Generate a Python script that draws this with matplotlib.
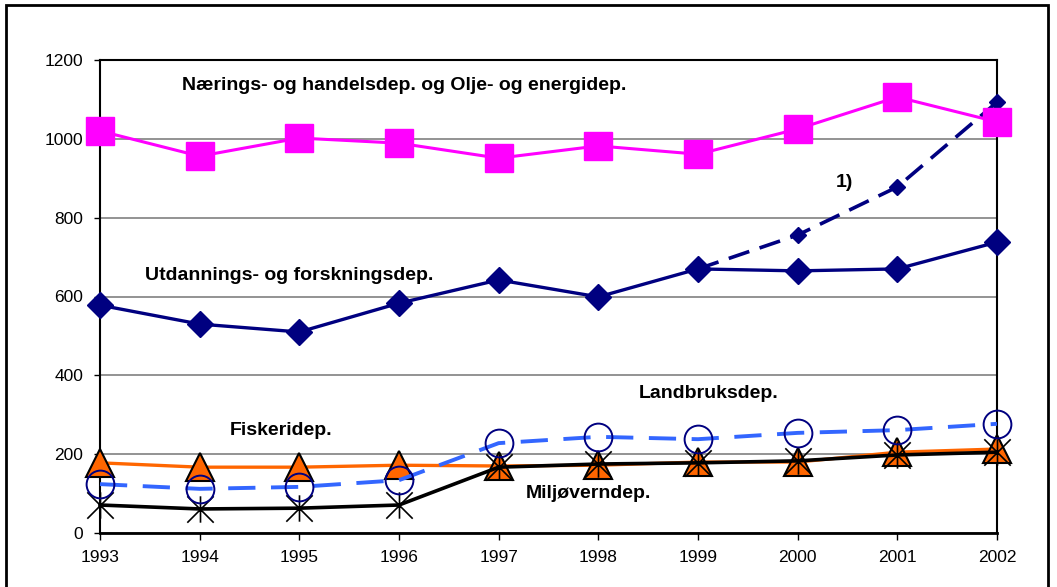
import matplotlib
matplotlib.use("Agg")
import matplotlib.pyplot as plt
from matplotlib.path import Path
from matplotlib.patches import Rectangle

years = [1993, 1994, 1995, 1996, 1997, 1998, 1999, 2000, 2001, 2002]
naerings = [1020, 956, 1002, 989, 951, 982, 961, 1025, 1106, 1043]
utdanning = [578, 530, 510, 583, 642, 599, 670, 665, 670, 738]
utd_years_alt = [1999, 2000, 2001, 2002]
utdanning_alt = [670, 756, 878, 1093]
fiskeri = [178, 167, 167, 172, 170, 172, 180, 180, 205, 213]
miljo = [71, 61, 63, 71, 167, 175, 178, 183, 198, 205]
landbruk = [124, 112, 117, 134, 228, 244, 238, 254, 261, 277]
yticks = [0, 200, 400, 600, 800, 1000, 1200]

plt.rcParams['font.family'] = ['Liberation Sans', 'DejaVu Sans']

W, H = 1057, 587
fig = plt.figure(figsize=(W / 100, H / 100), dpi=100)
ax = fig.add_axes([100 / W, 1 - 533 / H, 897 / W, 473 / H])

fig.patches.append(Rectangle((6 / W, -0.05), (1048 - 6) / W, 1 - 5 / H + 0.05,
                             transform=fig.transFigure, fill=False,
                             edgecolor='black', linewidth=2, zorder=0))

star = Path([(-1, -1), (1, 1), (-1, 1), (1, -1), (0, -1), (0, 1)],
            [Path.MOVETO, Path.LINETO, Path.MOVETO, Path.LINETO, Path.MOVETO, Path.LINETO])

ax.plot(years, fiskeri, color='#FF6600', lw=2.4, marker='^', markersize=20,
        markerfacecolor='#FF6600', markeredgecolor='black', markeredgewidth=1.5, zorder=3,
        clip_on=False)
ax.plot(years, miljo, color='black', lw=2.6, marker=star, markersize=19,
        markeredgecolor='black', markeredgewidth=1.2, zorder=4, clip_on=False)
ax.plot(years, landbruk, color='#3366FF', lw=2.8, dashes=(7, 4), marker='o', markersize=20,
        markerfacecolor='none', markeredgecolor='#000080', markeredgewidth=1.4, zorder=5,
        clip_on=False)
ax.plot(utd_years_alt, utdanning_alt, color='#000080', lw=2.6, dashes=(6, 3), marker='D',
        markersize=8, markerfacecolor='#000080', markeredgecolor='#000080', zorder=6,
        clip_on=False)
ax.plot(years, utdanning, color='#000080', lw=2.4, marker='D', markersize=13.5,
        markerfacecolor='#000080', markeredgecolor='#000080', zorder=6, clip_on=False)
ax.plot(years, naerings, color='#FF00FF', lw=2.2, marker='s', markersize=20,
        markerfacecolor='#FF00FF', markeredgecolor='#FF00FF', zorder=7, clip_on=False)

ax.set_xlim(1993, 2002)
ax.set_ylim(0, 1200)
ax.set_yticks(yticks)
ax.set_xticks(years)
ax.set_xticklabels([str(y) for y in years])
ax.grid(axis='y', color='#808080', lw=1.2, zorder=0)
ax.set_axisbelow(True)
for s in ax.spines.values():
    s.set_linewidth(1.5)
    s.set_color('black')
ax.spines['bottom'].set_linewidth(2)
ax.tick_params(axis='both', direction='out', width=1, labelsize=12.5, colors='black')
ax.tick_params(axis='y', length=4, pad=8)
ax.tick_params(axis='x', length=5, pad=7)

tk = dict(fontsize=14, fontweight='bold', transform=ax.transData, ha='center', va='center')
ax.text(1996.05, 1136, 'Nærings- og handelsdep. og Olje- og energidep.', **tk)
ax.text(1994.9, 654, 'Utdannings- og forskningsdep.', **tk)
ax.text(2000.47, 888, '1)', **tk)
ax.text(1999.11, 353, 'Landbruksdep.', **tk)
ax.text(1994.82, 261, 'Fiskeridep.', **tk)
ax.text(1997.9, 99, 'Miljøverndep.', **tk)

fig.savefig('out.png', dpi=100)
